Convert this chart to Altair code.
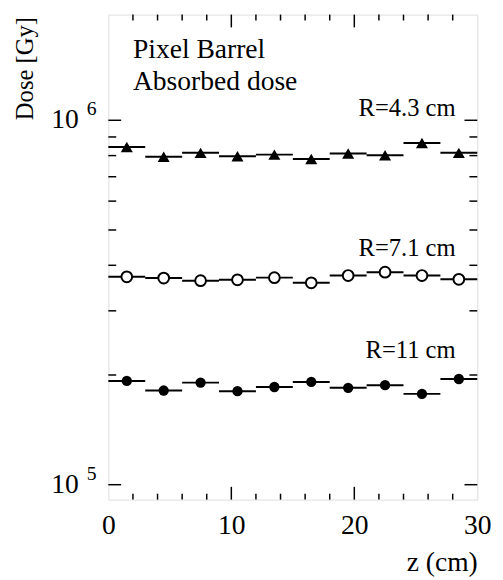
import altair as alt
import pandas as pd

# ---- data ----
z_centers = [1.5, 4.5, 7.5, 10.5, 13.5, 16.5, 19.5, 22.5, 25.5, 28.5]
bin_half_width = 1.5
dose_r43 = [8.45e5, 7.94e5, 8.14e5, 7.97e5, 8.05e5, 7.83e5, 8.11e5, 8.02e5, 8.66e5, 8.14e5]
dose_r71 = [3.72e5, 3.69e5, 3.63e5, 3.65e5, 3.70e5, 3.58e5, 3.75e5, 3.83e5, 3.75e5, 3.66e5]
dose_r11 = [1.926e5, 1.813e5, 1.906e5, 1.806e5, 1.854e5, 1.914e5, 1.844e5, 1.875e5, 1.775e5, 1.95e5]
series_names = ["R=4.3 cm", "R=7.1 cm", "R=11 cm"]

x_tick_labels = [0, 10, 20, 30]
x_major_ticks = [10, 20]
x_minor_ticks = [2, 4, 6, 8, 12, 14, 16, 18, 22, 24, 26, 28]
y_major_ticks = [1e5, 1e6]
y_major_exponents = ["5", "6"]
y_minor_ticks = [2e5, 3e5, 4e5, 5e5, 6e5, 7e5, 8e5, 9e5]

label_texts = ["Pixel Barrel", "Absorbed dose"]
label_x = [2, 2]
label_y = [1.48e6, 1.21e6]
series_label_x = [28.24, 28.24, 28.24]
series_label_y = [1.03e6, 4.25e5, 2.23e5]

# ---- tables ----
W, H = 375, 493
FONT = "Liberation Serif"

rows = []
for name, vals in zip(series_names, [dose_r43, dose_r71, dose_r11]):
    for z, d in zip(z_centers, vals):
        rows.append({"z": z, "dose": d, "series": name,
                     "lo": z - bin_half_width, "hi": z + bin_half_width})
df = pd.DataFrame(rows)

xs = alt.Scale(domain=[0, 30], nice=False, zero=False)
ys = alt.Scale(type="log", domain=[9.1e4, 1.95e6], nice=False)

x_axis = alt.Axis(values=x_tick_labels, ticks=False, domain=False, grid=False,
                  labelFont=FONT, labelFontSize=28, labelColor="black", labelPadding=12,
                  labelFlush=False,
                  title="z (cm)", titleFont=FONT, titleFontSize=28, titleFontWeight="normal",
                  titleColor="black", titleAnchor="end", titlePadding=10)
y_axis = alt.Axis(labels=False, ticks=False, domain=False, grid=False,
                  title="Dose [Gy]", titleFont=FONT, titleFontSize=25, titleFontWeight="normal",
                  titleColor="black", titleX=-85, titleY=2, titleAngle=270,
                  titleAlign="right", titleBaseline="middle")

base = alt.Chart(df)

segments = base.mark_rule(color="black", strokeWidth=2).encode(
    x=alt.X("lo:Q", scale=xs, axis=x_axis),
    x2="hi:Q",
    y=alt.Y("dose:Q", scale=ys, axis=y_axis),
)

tri = base.transform_filter(alt.datum.series == series_names[0]).mark_point(
    shape="triangle-up", filled=True, color="black", size=150, opacity=1
).encode(x=alt.X("z:Q", scale=xs), y=alt.Y("dose:Q", scale=ys))

ocirc = base.transform_filter(alt.datum.series == series_names[1]).mark_point(
    shape="circle", filled=True, fill="white", stroke="black", strokeWidth=2,
    size=120, opacity=1
).encode(x=alt.X("z:Q", scale=xs), y=alt.Y("dose:Q", scale=ys))

fcirc = base.transform_filter(alt.datum.series == series_names[2]).mark_point(
    shape="circle", filled=True, color="black", size=110, opacity=1
).encode(x=alt.X("z:Q", scale=xs), y=alt.Y("dose:Q", scale=ys))

# ---- inward ticks on all four sides ----
def xticks(vals, length):
    d = pd.DataFrame({"t": vals})
    b = alt.Chart(d).mark_rule(color="black", strokeWidth=1.5).encode(
        x=alt.X("t:Q", scale=xs), y=alt.value(H), y2=alt.value(H - length))
    t = alt.Chart(d).mark_rule(color="black", strokeWidth=1.5).encode(
        x=alt.X("t:Q", scale=xs), y=alt.value(0), y2=alt.value(length))
    return [b, t]

def yticks(vals, length):
    d = pd.DataFrame({"t": vals})
    l = alt.Chart(d).mark_rule(color="black", strokeWidth=1.5).encode(
        y=alt.Y("t:Q", scale=ys), x=alt.value(0), x2=alt.value(length))
    r = alt.Chart(d).mark_rule(color="black", strokeWidth=1.5).encode(
        y=alt.Y("t:Q", scale=ys), x=alt.value(W), x2=alt.value(W - length))
    return [l, r]

tick_layers = (xticks(x_minor_ticks, 6) + xticks(x_major_ticks, 13)
               + yticks(y_minor_ticks, 8) + yticks(y_major_ticks, 13))

# ---- y tick labels as 10^n ----
ylab_df = pd.DataFrame({"t": y_major_ticks, "exp": y_major_exponents})
ylab_base = alt.Chart(ylab_df).mark_text(
    font=FONT, fontSize=28, align="right", baseline="middle", color="black"
).encode(y=alt.Y("t:Q", scale=ys), x=alt.value(-30), text=alt.value("10"))
ylab_exp = alt.Chart(ylab_df).mark_text(
    font=FONT, fontSize=20, align="left", baseline="middle", dy=-11, color="black"
).encode(y=alt.Y("t:Q", scale=ys), x=alt.value(-22), text="exp:N")

# ---- annotations ----
ann_df = pd.DataFrame({"x": label_x, "y": label_y, "text": label_texts})
ann = alt.Chart(ann_df).mark_text(
    font=FONT, fontSize=28, align="left", baseline="alphabetic", color="black"
).encode(x=alt.X("x:Q", scale=xs), y=alt.Y("y:Q", scale=ys), text="text:N")

sl_df = pd.DataFrame({"x": series_label_x, "y": series_label_y, "text": series_names})
sl = alt.Chart(sl_df).mark_text(
    font=FONT, fontSize=25, align="right", baseline="alphabetic", color="black"
).encode(x=alt.X("x:Q", scale=xs), y=alt.Y("y:Q", scale=ys), text="text:N")

chart = alt.layer(
    segments, *tick_layers, tri, ocirc, fcirc, ylab_base, ylab_exp, ann, sl
).properties(
    width=W, height=H,
    autosize=alt.AutoSizeParams(type="none"),
    padding={"left": 102, "top": 2, "right": 18, "bottom": 77},
).configure_view(stroke="black", strokeWidth=2).configure(background="white")

chart.save("out.html", embed_options={"renderer": "svg", "actions": False})
